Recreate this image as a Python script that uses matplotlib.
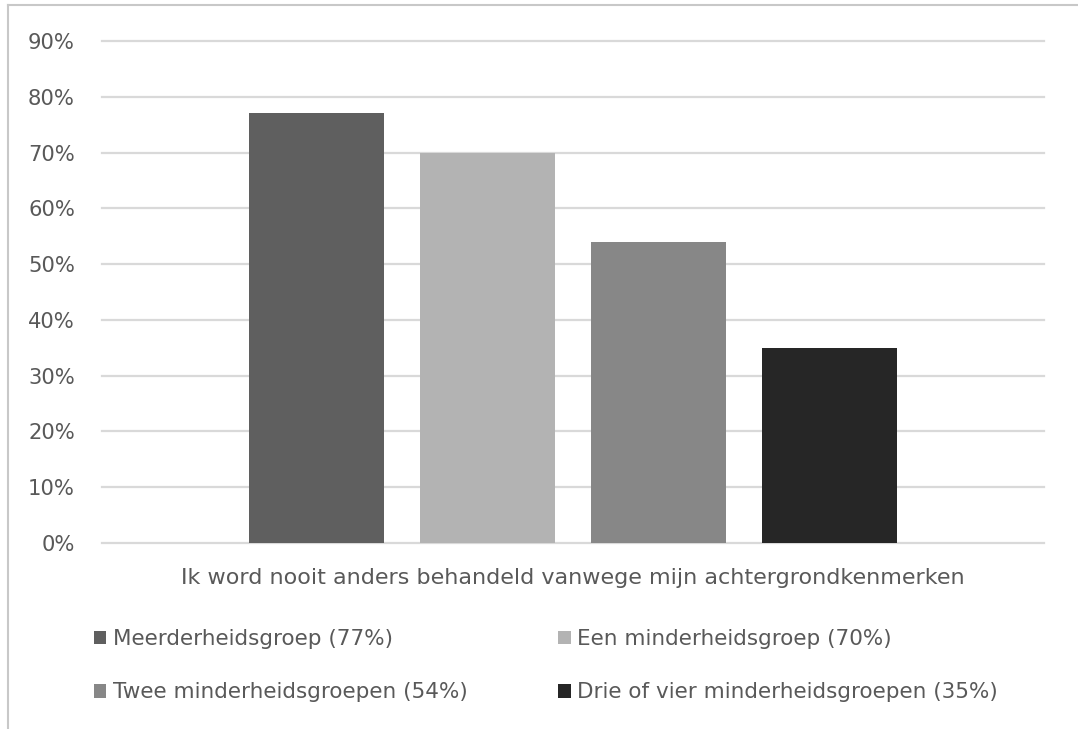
import numpy as np
import matplotlib
matplotlib.use("Agg")
import matplotlib.pyplot as plt
from matplotlib.lines import Line2D

# data
category = "Ik word nooit anders behandeld vanwege mijn achtergrondkenmerken"
groups = ["Meerderheidsgroep (77%)", "Een minderheidsgroep (70%)",
          "Twee minderheidsgroepen (54%)", "Drie of vier minderheidsgroepen (35%)"]
values = [0.77, 0.70, 0.54, 0.35]
colors = ["#5f5f5f", "#b3b3b3", "#878787", "#262626"]
yticks = [0.0, 0.1, 0.2, 0.3, 0.4, 0.5, 0.6, 0.7, 0.8, 0.9]

TXT = "#595959"
plt.rcParams['font.family'] = ['DejaVu Sans']

fig = plt.figure(figsize=(10.78, 7.29), dpi=100)
ax = fig.add_axes([0.0946, 0.2551, 0.874, 0.6887])

width = 0.1433
step = 0.1815
bars = []
for i, (g, v, c) in enumerate(zip(groups, values, colors)):
    b = ax.bar(0.5 + (i - 1.5) * step, v, width=width, color=c, label=g, zorder=3)
    bars.append(b)

ax.set_xlim(0, 1)
ax.set_ylim(0, 0.9)
ax.set_yticks(yticks)
ax.set_yticklabels([f"{int(round(t * 100))}%" for t in yticks])
ax.set_xticks([0.5])
ax.set_xticklabels([category])
ax.tick_params(axis='both', length=0, colors=TXT, labelsize=15.2)
ax.tick_params(axis='y', pad=19.5)
ax.tick_params(axis='x', pad=18)
for lab in ax.get_xticklabels():
    lab.set_fontsize(16)
ax.yaxis.grid(True, color="#d9d9d9", linewidth=1.6, zorder=0)
for gl in ax.get_ygridlines():
    gl.set_clip_on(False)
ax.set_axisbelow(True)
for s in ax.spines.values():
    s.set_visible(False)

# legend is filled row by row in the reference
order = [0, 2, 1, 3]
leg = fig.legend([bars[i] for i in order], [groups[i] for i in order],
                 loc="upper left", bbox_to_anchor=(0.0788, 0.1488), ncol=2,
                 frameon=False, fontsize=15.5, handlelength=0.6, handleheight=0.6,
                 handletextpad=0.3, columnspacing=4.2, labelspacing=1.54,
                 borderaxespad=0)
for t in leg.get_texts():
    t.set_color(TXT)

# outer frame (top and left edges visible)
fig.add_artist(Line2D([0.0074, 1.0], [0.9925, 0.9925], transform=fig.transFigure,
                      color="#c8c8c8", linewidth=1.5))
fig.add_artist(Line2D([0.0074, 0.0074], [0.0, 0.9925], transform=fig.transFigure,
                      color="#c8c8c8", linewidth=1.5))

fig.savefig("out.png", dpi=100)
